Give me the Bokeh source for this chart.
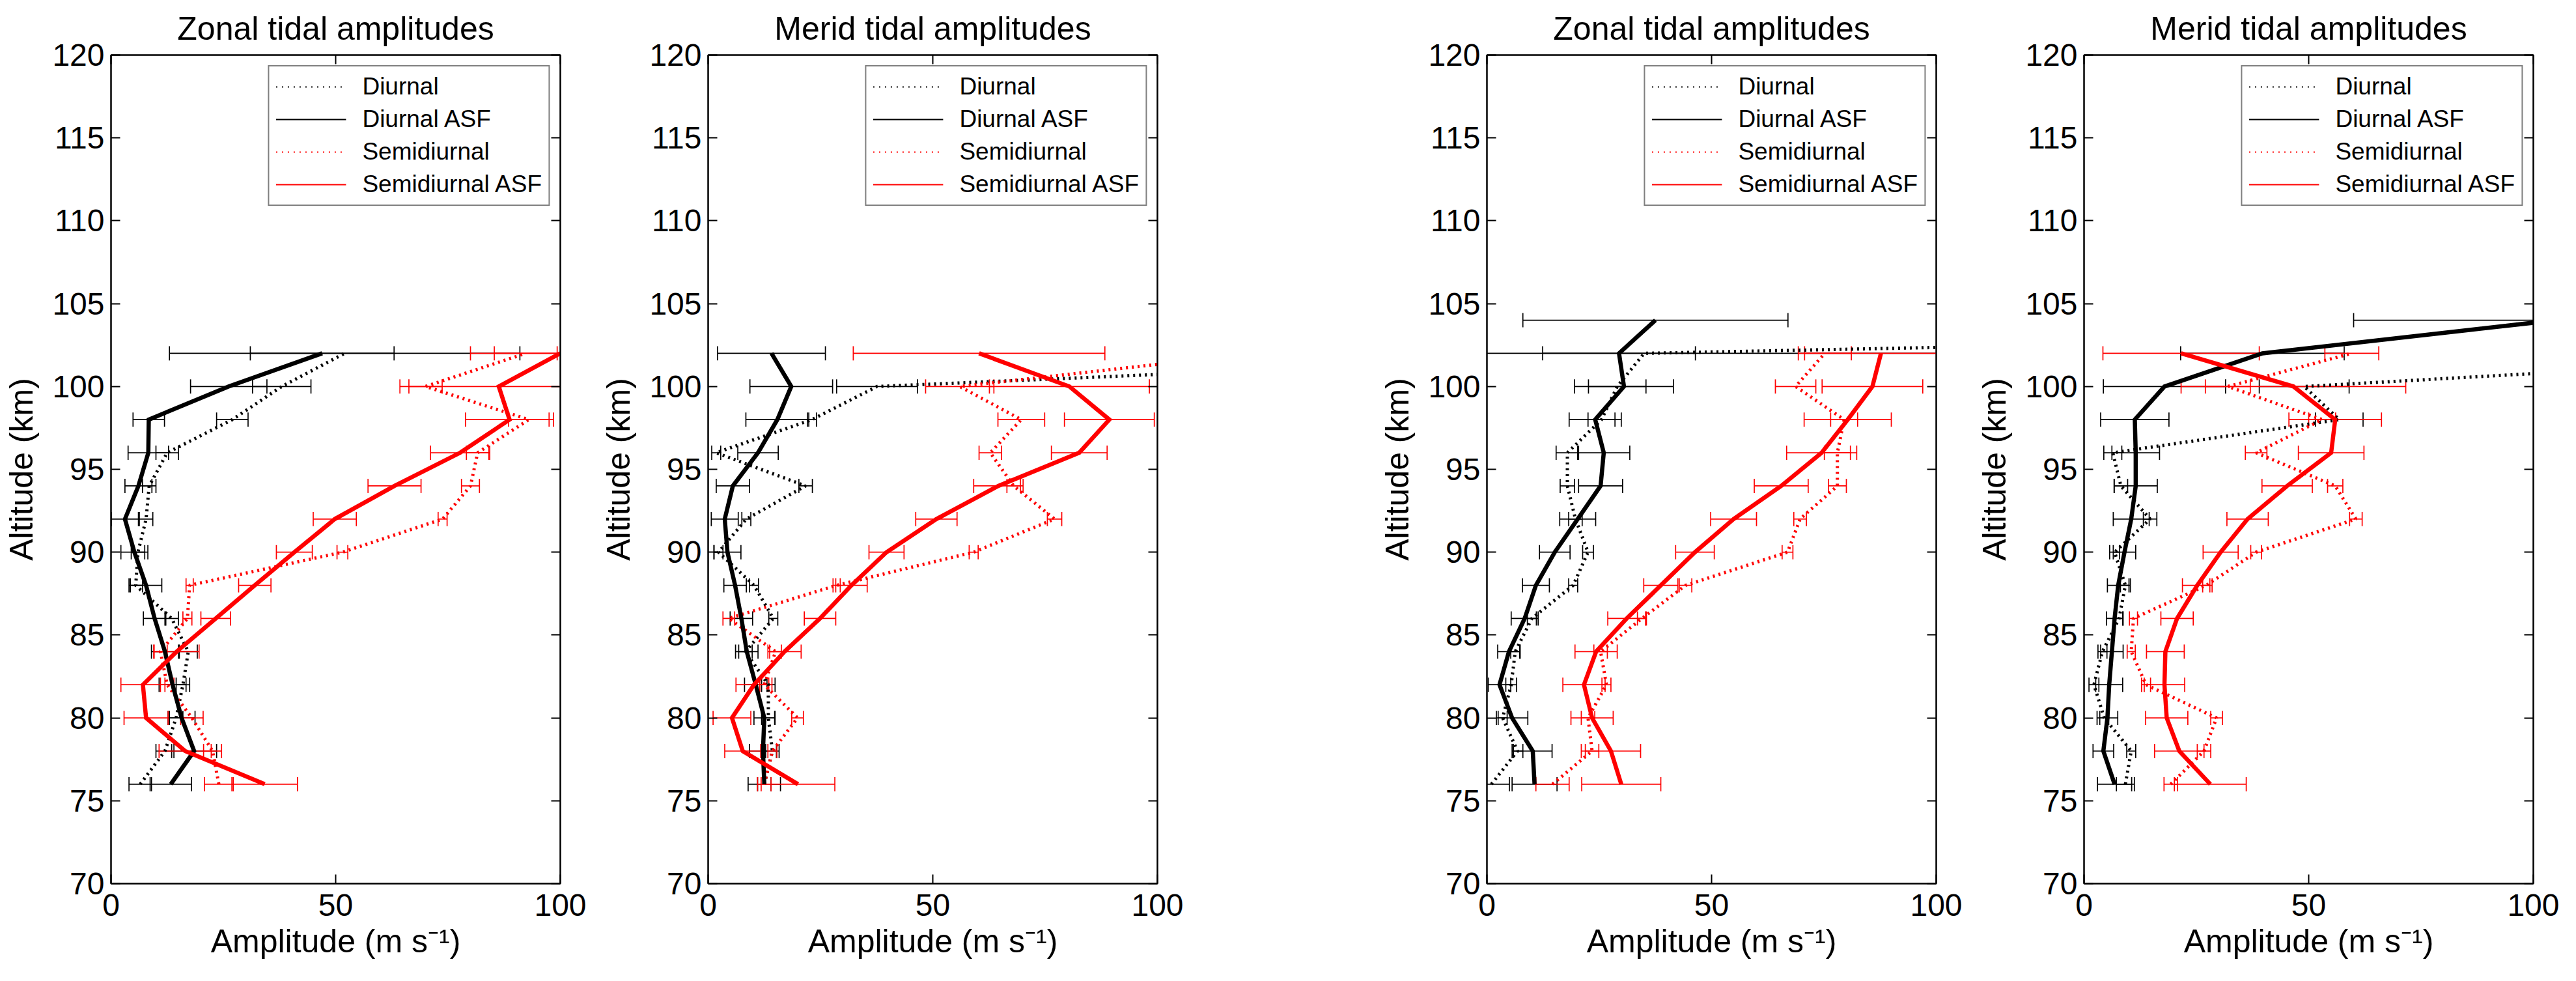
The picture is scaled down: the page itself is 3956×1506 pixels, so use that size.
#绘制潮汐振幅廓线（纬向/经向，两组台站）
from bokeh.plotting import figure
from bokeh.layouts import row
from bokeh.models import Range1d, LinearAxis, FixedTicker, ColumnDataSource, Legend, LegendItem
from bokeh.embed import file_html
from bokeh.resources import INLINE

#高度 (km)
alt14 = [76, 78, 80, 82, 84, 86, 88, 90, 92, 94, 96, 98, 100, 102]
alt15 = [76, 78, 80, 82, 84, 86, 88, 90, 92, 94, 96, 98, 100, 102, 104]

#第一组：纬向
z1_diu = [6.5, 12.0, 14.5, 16.0, 17.2, 13.5, 5.5, 6.0, 7.8, 8.5, 12.5, 27.0, 38.0, 52.0]
z1_diu_err = [2.5, 2.0, 1.5, 1.5, 2.0, 1.5, 1.5, 1.5, 1.5, 1.5, 2.5, 3.5, 6.5, 39.0]
z1_diu_asf = [13.3, 18.5, 15.7, 13.7, 12.0, 9.7, 7.8, 5.2, 3.1, 6.1, 8.3, 8.4, 26.2, 47.0]
z1_diu_asf_err = [4.6, 5.0, 3.0, 3.0, 3.0, 2.5, 3.5, 3.0, 3.0, 3.0, 4.5, 3.5, 8.5, 16.0]
z1_semi = [24.0, 22.6, 18.0, 12.5, 11.0, 17.0, 17.5, 51.5, 73.8, 80.0, 81.6, 93.0, 70.0, 92.3]
z1_semi_err = [3.2, 2.0, 2.5, 1.5, 1.5, 1.0, 0.8, 1.2, 1.0, 2.0, 2.5, 4.5, 3.7, 7.0]
z1_semi_asf = [34.2, 16.5, 7.8, 7.1, 14.6, 23.3, 32.0, 40.8, 49.8, 63.1, 77.7, 88.7, 86.3, 100.0]
z1_semi_asf_err = [7.3, 5.8, 4.9, 4.9, 5.0, 3.3, 3.6, 4.0, 4.8, 5.9, 6.6, 9.8, 22.0, 20.0]

#第一组：经向
m1_diu = [12.5, 14.3, 13.4, 13.4, 8.3, 14.5, 10.2, 2.3, 8.5, 21.7, 1.8, 23.1, 37.6, 210.0]
m1_diu_err = [1.5, 1.5, 1.5, 1.5, 1.5, 1.0, 1.0, 1.0, 1.0, 1.5, 1.0, 1.0, 9.0, 60.0]
m1_diu_asf = [12.5, 12.2, 12.5, 10.6, 8.6, 7.4, 6.0, 4.3, 3.7, 5.5, 11.1, 15.4, 18.5, 14.1]
m1_diu_asf_err = [3.6, 3.0, 2.3, 2.5, 2.5, 2.5, 2.5, 3.0, 3.0, 3.7, 4.5, 7.0, 9.2, 12.0]
m1_semi = [12.5, 14.3, 19.9, 12.5, 15.0, 4.6, 28.6, 59.1, 77.1, 68.0, 62.8, 69.7, 56.0, 122.0]
m1_semi_err = [1.5, 1.0, 1.3, 1.0, 1.3, 1.3, 0.8, 1.0, 1.6, 1.5, 2.5, 5.2, 7.6, 20.0]
m1_semi_asf = [20.0, 7.7, 5.3, 10.2, 17.0, 24.9, 31.9, 39.7, 50.8, 64.6, 82.6, 89.3, 80.4, 60.3]
m1_semi_asf_err = [8.2, 4.0, 4.2, 4.0, 3.7, 3.5, 3.5, 3.9, 4.6, 5.5, 6.2, 10.0, 17.8, 28.0]

#第二组：纬向
z2_diu = [1.0, 6.8, 3.5, 5.4, 6.3, 10.0, 19.2, 22.5, 19.7, 17.9, 17.9, 25.5, 29.0, 35.0, 400.0]
z2_diu_err = [4.0, 1.2, 1.0, 1.2, 1.0, 1.0, 1.0, 1.2, 1.5, 1.6, 2.5, 3.0, 6.4, 80.0, 50.0]
z2_diu_asf = [10.6, 10.2, 5.6, 2.8, 4.9, 8.4, 10.9, 15.1, 20.2, 25.3, 26.0, 24.1, 30.5, 29.4, 37.5]
z2_diu_asf_err = [5.0, 4.3, 3.5, 2.5, 2.5, 3.0, 3.0, 3.4, 4.0, 4.9, 5.8, 5.8, 11.0, 17.0, 29.5]
z2_semi = [14.6, 23.4, 22.5, 26.6, 25.3, 34.5, 44.2, 66.9, 69.7, 78.0, 78.0, 79.5, 68.7, 75.2]
z2_semi_err = [3.7, 1.5, 1.5, 1.0, 1.5, 1.0, 1.4, 1.2, 1.4, 2.0, 2.9, 3.0, 4.5, 5.9]
z2_semi_asf = [29.9, 27.6, 23.4, 21.6, 24.3, 31.1, 38.7, 46.3, 54.9, 65.5, 74.5, 80.3, 85.8, 87.7]
z2_semi_asf_err = [8.8, 6.6, 4.7, 4.7, 4.7, 4.2, 3.8, 4.3, 5.1, 6.0, 7.8, 9.7, 11.2, 17.0]

#第二组：经向
m2_diu = [9.2, 10.5, 4.5, 2.2, 4.1, 7.8, 9.2, 6.8, 14.7, 8.2, 6.4, 56.8, 49.0, 180.0]
m2_diu_err = [2.0, 1.0, 1.0, 1.1, 1.0, 0.9, 1.1, 1.1, 1.5, 1.5, 2.0, 5.3, 10.0, 60.0]
m2_diu_asf = [6.8, 4.3, 5.2, 5.6, 6.2, 6.8, 7.6, 9.0, 10.5, 11.5, 11.5, 11.3, 17.9, 39.7, 105.0]
m2_diu_asf_err = [3.8, 2.3, 2.3, 3.0, 2.5, 1.8, 2.4, 2.5, 4.0, 4.8, 5.3, 7.6, 13.6, 18.2, 45.0]
m2_semi = [19.3, 26.7, 29.5, 13.8, 10.5, 11.0, 27.2, 38.3, 60.5, 55.9, 38.3, 53.0, 32.0, 59.6]
m2_semi_err = [1.5, 1.5, 1.3, 1.0, 0.9, 0.9, 0.8, 1.2, 1.4, 1.7, 2.4, 3.0, 5.0, 6.0]
m2_semi_asf = [28.1, 21.2, 18.4, 17.9, 18.1, 20.7, 25.2, 30.4, 36.4, 45.2, 55.0, 55.9, 46.6, 21.6]
m2_semi_asf_err = [8.0, 5.5, 4.7, 4.5, 4.2, 3.6, 3.3, 3.9, 4.6, 5.6, 7.3, 10.3, 25.0, 17.4]

y_ticks = [70, 75, 80, 85, 90, 95, 100, 105, 110, 115, 120]
x_ticks = [0, 50, 100]
legend_labels = ["Diurnal", "Diurnal ASF", "Semidiurnal", "Semidiurnal ASF"]

FONT = "Liberation Sans"
CAP = 0.43  # 误差棒端帽半高 (km)
NAN = float("nan")


#水平误差棒
def add_errbars(p, alt, amp, err, color):
    lo = [a - e for a, e in zip(amp, err)]
    hi = [a + e for a, e in zip(amp, err)]
    src = ColumnDataSource(dict(y=alt, lo=lo, hi=hi,
                                yb=[y - CAP for y in alt], yt=[y + CAP for y in alt]))
    p.segment(x0='lo', y0='y', x1='hi', y1='y', source=src, line_color=color, line_width=1.7)
    p.segment(x0='lo', y0='yb', x1='lo', y1='yt', source=src, line_color=color, line_width=1.7)
    p.segment(x0='hi', y0='yb', x1='hi', y1='yt', source=src, line_color=color, line_width=1.7)


#单个面板
def make_panel(title, series, left, right):
    p = figure(frame_width=690, frame_height=1272,
               min_border_left=left, min_border_right=right,
               min_border_top=83, min_border_bottom=130,
               x_range=Range1d(0, 100), y_range=Range1d(70, 120),
               output_backend="svg", toolbar_location=None, title=title)
    p.title.text_font = FONT
    p.title.text_font_size = "50px"
    p.title.text_font_style = "normal"
    p.title.text_color = "black"
    p.title.align = "center"
    p.title.standoff = 26
    p.xgrid.grid_line_color = None
    p.ygrid.grid_line_color = None
    p.outline_line_color = "black"
    p.outline_line_width = 2

    # 先画误差棒，再画曲线
    (d_alt, d, d_err), (da_alt, da, da_err), (s_alt, s, s_err), (sa_alt, sa, sa_err) = series
    add_errbars(p, d_alt, d, d_err, "black")
    add_errbars(p, da_alt, da, da_err, "black")
    add_errbars(p, s_alt, s, s_err, "red")
    add_errbars(p, sa_alt, sa, sa_err, "red")
    p.line(d, d_alt, line_color="black", line_width=5, line_dash="3 6")
    p.line(s, s_alt, line_color="red", line_width=5, line_dash="3 6")
    p.line(da, da_alt, line_color="black", line_width=6.5, line_join="miter")
    p.line(sa, sa_alt, line_color="red", line_width=6.5, line_join="miter")

    # 图例用细线（不画数据的代理线）
    styles = [("black", "2 7"), ("black", "solid"), ("red", "2 7"), ("red", "solid")]
    items = []
    for lab, (c, dash) in zip(legend_labels, styles):
        r = p.line([NAN], [NAN], line_color=c, line_width=2, line_dash=dash)
        items.append(LegendItem(label=lab, renderers=[r]))
    leg = Legend(items=items, location="top_right", margin=16, padding=10, spacing=8,
                 glyph_width=108, glyph_height=40, label_height=40, label_standoff=25,
                 label_text_font=FONT, label_text_font_size="37px", label_text_color="black",
                 border_line_color="black", border_line_width=2, background_fill_alpha=1)
    p.add_layout(leg)

    # 坐标轴
    p.xaxis.axis_label = "Amplitude (m s\u207b\u00b9)"
    p.yaxis.axis_label = "Altitude (km)"
    for ax in (p.xaxis[0], p.yaxis[0]):
        ax.axis_label_text_font = FONT
        ax.axis_label_text_font_size = "50px"
        ax.axis_label_text_font_style = "normal"
        ax.axis_label_text_color = "black"
        ax.major_label_text_font = FONT
        ax.major_label_text_font_size = "48px"
        ax.major_label_text_color = "black"
    p.xaxis.ticker = FixedTicker(ticks=x_ticks)
    p.yaxis.ticker = FixedTicker(ticks=y_ticks)
    p.xaxis.major_label_standoff = 16
    p.xaxis.axis_label_standoff = 8
    p.yaxis.major_label_standoff = 10
    p.yaxis.axis_label_standoff = 16
    p.add_layout(LinearAxis(ticker=FixedTicker(ticks=y_ticks), major_label_text_color=None), "right")
    p.add_layout(LinearAxis(ticker=FixedTicker(ticks=x_ticks), major_label_text_color=None), "above")
    for ax in p.axis:
        ax.major_tick_in = 14
        ax.major_tick_out = 0
        ax.minor_tick_line_color = None
        ax.axis_line_color = "black"
        ax.axis_line_width = 2
        ax.major_tick_line_color = "black"
        ax.major_tick_line_width = 2
    return p


f1 = make_panel("Zonal tidal amplitudes",
                [(alt14, z1_diu, z1_diu_err), (alt14, z1_diu_asf, z1_diu_asf_err),
                 (alt14, z1_semi, z1_semi_err), (alt14, z1_semi_asf, z1_semi_asf_err)], 170, 57)
f2 = make_panel("Merid tidal amplitudes",
                [(alt14, m1_diu, m1_diu_err), (alt14, m1_diu_asf, m1_diu_asf_err),
                 (alt14, m1_semi, m1_semi_err), (alt14, m1_semi_asf, m1_semi_asf_err)], 170, 336)
f3 = make_panel("Zonal tidal amplitudes",
                [(alt15, z2_diu, z2_diu_err), (alt15, z2_diu_asf, z2_diu_asf_err),
                 (alt14, z2_semi, z2_semi_err), (alt14, z2_semi_asf, z2_semi_asf_err)], 170, 57)
f4 = make_panel("Merid tidal amplitudes",
                [(alt14, m2_diu, m2_diu_err), (alt15, m2_diu_asf, m2_diu_asf_err),
                 (alt14, m2_semi, m2_semi_err), (alt14, m2_semi_asf, m2_semi_asf_err)], 170, 40)

p = row(f1, f2, f3, f4)
open("out.html", "w").write(file_html(p, INLINE))
